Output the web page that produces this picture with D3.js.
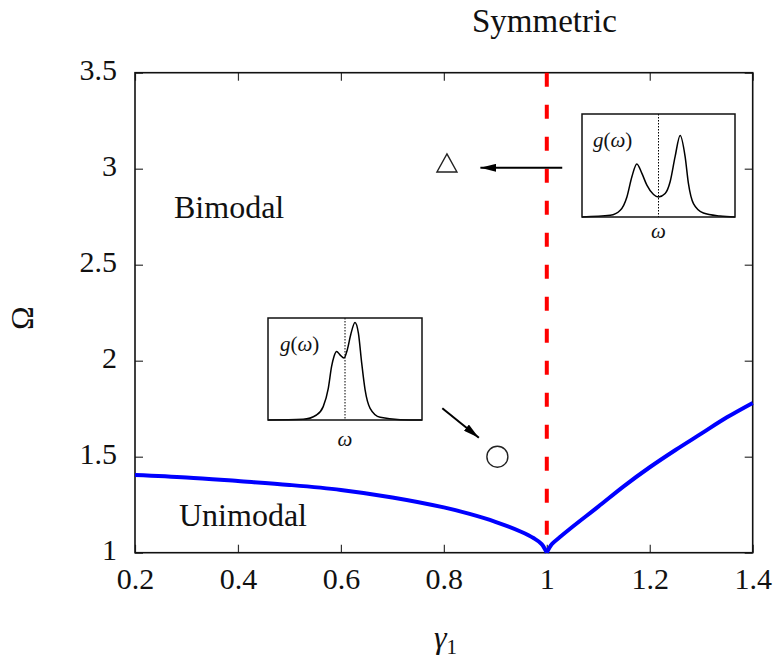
<!DOCTYPE html>
<html>
<head>
<meta charset="utf-8">
<script src="https://cdn.jsdelivr.net/npm/d3@7"></script>
<style>
  body { margin: 0; background: #fff; }
  text { font-family: "Liberation Serif", "DejaVu Serif", serif; fill: #111; }
</style>
</head>
<body>
<svg id="chart" width="775" height="663"></svg>
<script>
// Boundary curve, left branch (gamma_1 < 1) and right branch (gamma_1 > 1)
const gammaLeft = [0.2, 0.3, 0.4, 0.5, 0.6, 0.7, 0.8, 0.85, 0.9, 0.95, 0.975, 0.99, 1.0];
const omegaLeft = [1.405, 1.392, 1.373, 1.353, 1.327, 1.288, 1.236, 1.202, 1.161, 1.109, 1.075, 1.045, 1.0];
const gammaRight = [1.0, 1.01, 1.025, 1.05, 1.1, 1.15, 1.2, 1.25, 1.3, 1.35, 1.4];
const omegaRight = [1.0, 1.045, 1.08, 1.135, 1.24, 1.347, 1.445, 1.535, 1.62, 1.705, 1.78];

// symmetric line
const symmetricGamma = 1.0;

// markers
const triangleAt = [0.806, 3.03];
const circleAt = [0.904, 1.5];

// arrows [from, to]
const arrowTop = [[1.03, 3.005], [0.871, 3.005]];
const arrowBottom = [[0.797, 1.752], [0.868, 1.599]];

// inset curves g(omega), omega in [-1, 1], g normalised to [0, 1]
const insetTopW = [-1.0, -0.63, -0.5, -0.413, -0.348, -0.283, -0.217, -0.152, -0.065, 0, 0.087, 0.152, 0.217, 0.283, 0.348, 0.391, 0.457, 0.587, 0.804, 1.0];
const insetTopG = [0, 0.016, 0.065, 0.195, 0.391, 0.515, 0.423, 0.309, 0.218, 0.195, 0.228, 0.342, 0.586, 0.792, 0.586, 0.326, 0.13, 0.039, 0.01, 0];
const insetBotW = [-1.0, -0.543, -0.37, -0.283, -0.217, -0.174, -0.143, -0.109, -0.065, -0.013, 0.03, 0.074, 0.13, 0.174, 0.217, 0.261, 0.326, 0.457, 0.717, 1.0];
const insetBotG = [0, 0.007, 0.049, 0.131, 0.311, 0.525, 0.623, 0.672, 0.639, 0.607, 0.689, 0.836, 0.957, 0.852, 0.557, 0.295, 0.115, 0.026, 0.003, 0];

// ticks
const xTicks = [0.2, 0.4, 0.6, 0.8, 1.0, 1.2, 1.4];
const xTickLabels = ["0.2", "0.4", "0.6", "0.8", "1", "1.2", "1.4"];
const yTicks = [1, 1.5, 2, 2.5, 3, 3.5];
const yTickLabels = ["1", "1.5", "2", "2.5", "3", "3.5"];

const svg = d3.select('#chart');
const plotLeft = 135, plotTop = 72.7, plotRight = 752.7, plotBottom = 552.7;

const x = d3.scaleLinear().domain([0.2, 1.4]).range([plotLeft, plotRight]);
const y = d3.scaleLinear().domain([1, 3.5]).range([plotBottom, plotTop]);

// Axes: inward ticks on all four sides
const tick = 8;
const gx = svg.append('g').attr('transform', `translate(0,${plotBottom})`)
  .call(d3.axisBottom(x).tickValues(xTicks).tickSizeInner(-tick).tickSizeOuter(0)
    .tickFormat((d, i) => xTickLabels[i]));
gx.selectAll('text').attr('y', 36).attr('dy', 0).style('font-size', '30px');

const gy = svg.append('g').attr('transform', `translate(${plotLeft},0)`)
  .call(d3.axisLeft(y).tickValues(yTicks).tickSizeInner(-tick).tickSizeOuter(0)
    .tickFormat((d, i) => yTickLabels[i]));
gy.selectAll('text').attr('x', -18).attr('dy', 0).attr('y', 7).style('font-size', '30px');

svg.append('g').attr('transform', `translate(0,${plotTop})`)
  .call(d3.axisTop(x).tickValues(xTicks).tickSizeInner(-tick).tickSizeOuter(0).tickFormat(''));
svg.append('g').attr('transform', `translate(${plotRight},0)`)
  .call(d3.axisRight(y).tickValues(yTicks).tickSizeInner(-tick).tickSizeOuter(0).tickFormat(''));

svg.selectAll('.domain').remove();
svg.selectAll('.tick line').attr('stroke', '#333').attr('stroke-width', 1.2);

svg.append('rect')
  .attr('x', plotLeft).attr('y', plotTop)
  .attr('width', plotRight - plotLeft).attr('height', plotBottom - plotTop)
  .attr('fill', 'none').attr('stroke', '#111').attr('stroke-width', 1.6);

// Symmetric dashed line
svg.append('line')
  .attr('x1', x(symmetricGamma)).attr('x2', x(symmetricGamma))
  .attr('y1', y(3.5)).attr('y2', y(1))
  .attr('stroke', '#ff0000').attr('stroke-width', 4)
  .attr('stroke-dasharray', '14,18');

// Boundary curve
const line = d3.line().x(d => x(d[0])).y(d => y(d[1])).curve(d3.curveCatmullRom.alpha(0.5));
[[gammaLeft, omegaLeft], [gammaRight, omegaRight]].forEach(([gs, os]) => {
  svg.append('path')
    .datum(gs.map((g, i) => [g, os[i]]))
    .attr('d', line)
    .attr('fill', 'none')
    .attr('stroke', '#0000ff')
    .attr('stroke-width', 4)
    .attr('stroke-linejoin', 'round');
});

// Markers
const tx = x(triangleAt[0]), ty = y(triangleAt[1]);
svg.append('path')
  .attr('d', `M${tx},${ty - 9} L${tx + 10},${ty + 9} L${tx - 10},${ty + 9} Z`)
  .attr('fill', 'none').attr('stroke', '#222').attr('stroke-width', 1.4);
svg.append('circle')
  .attr('cx', x(circleAt[0])).attr('cy', y(circleAt[1])).attr('r', 10.5)
  .attr('fill', 'none').attr('stroke', '#222').attr('stroke-width', 1.4);

// Arrows
svg.append('defs').append('marker')
  .attr('id', 'head').attr('markerUnits', 'userSpaceOnUse')
  .attr('viewBox', '0 0 16 8').attr('refX', 16).attr('refY', 4)
  .attr('markerWidth', 16).attr('markerHeight', 8).attr('orient', 'auto')
  .append('path').attr('d', 'M0,0 L16,4 L0,8 Z').attr('fill', '#000');

[arrowTop, arrowBottom].forEach(a => {
  svg.append('line')
    .attr('x1', x(a[0][0])).attr('y1', y(a[0][1]))
    .attr('x2', x(a[1][0])).attr('y2', y(a[1][1]))
    .attr('stroke', '#000').attr('stroke-width', 2)
    .attr('marker-end', 'url(#head)');
});

// Insets
function inset(bx, by, bw, bh, ws, gs, gLabel, wLabel) {
  const g = svg.append('g').attr('transform', `translate(${bx},${by})`);
  const ix = d3.scaleLinear().domain([-1, 1]).range([0, bw]);
  const iy = d3.scaleLinear().domain([0, 1]).range([bh, 0]);
  g.append('line')
    .attr('x1', ix(0)).attr('x2', ix(0)).attr('y1', 0).attr('y2', bh)
    .attr('stroke', '#000').attr('stroke-width', 1).attr('stroke-dasharray', '1.5,1.5');
  g.append('path')
    .datum(ws.map((w, i) => [w, gs[i]]))
    .attr('d', d3.line().x(d => ix(d[0])).y(d => iy(d[1])).curve(d3.curveMonotoneX))
    .attr('fill', 'none').attr('stroke', '#000').attr('stroke-width', 1.5);
  g.append('rect').attr('width', bw).attr('height', bh)
    .attr('fill', 'none').attr('stroke', '#111').attr('stroke-width', 1.5);
  const t = g.append('text').attr('x', gLabel[0]).attr('y', gLabel[1]).style('font-size', '21px');
  t.append('tspan').style('font-style', 'italic').text('g');
  t.append('tspan').text('(');
  t.append('tspan').style('font-style', 'italic').text('ω');
  t.append('tspan').text(')');
  g.append('text').attr('x', ix(0)).attr('y', wLabel)
    .attr('text-anchor', 'middle').style('font-size', '21px').style('font-style', 'italic').text('ω');
}
inset(582, 114, 153, 103, insetTopW, insetTopG, [11, 33], 124);
inset(268, 318, 154, 102, insetBotW, insetBotG, [12, 33], 128);

// Region labels
svg.append('text').attr('x', 174).attr('y', 218).style('font-size', '32px').text('Bimodal');
svg.append('text').attr('x', 179).attr('y', 526).style('font-size', '32px').text('Unimodal');
svg.append('text').attr('x', 472).attr('y', 32).style('font-size', '33px').text('Symmetric');

// Axis titles
svg.append('text')
  .attr('transform', 'translate(33,318) rotate(-90)')
  .attr('text-anchor', 'middle').style('font-size', '32px').text('Ω');
const gt = svg.append('text').attr('x', 434).attr('y', 648).style('font-size', '32px');
gt.append('tspan').style('font-style', 'italic').text('γ');
gt.append('tspan').attr('dy', 6).style('font-size', '21px').text('1');
</script>
</body>
</html>
